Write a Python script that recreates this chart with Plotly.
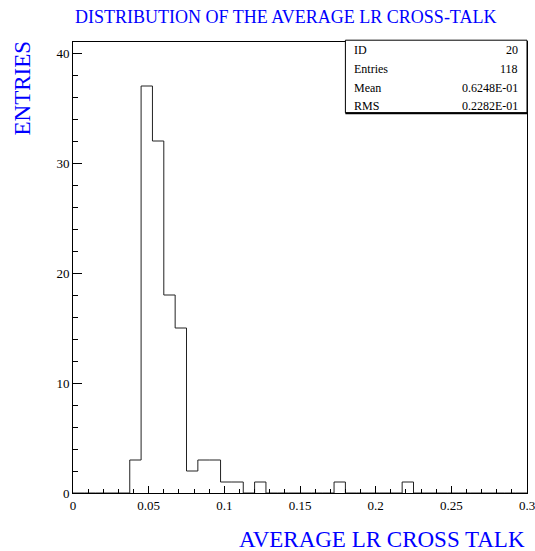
import plotly.graph_objects as go

# histogram: 40 bins from 0 to 0.3
bin_lo = 0.0
bin_width = 0.0075
counts = [0, 0, 0, 0, 0, 3, 37, 32, 18, 15, 2, 3, 3, 1, 1, 0, 1, 0, 0, 0,
          0, 0, 0, 1, 0, 0, 0, 0, 0, 1, 0, 0, 0, 0, 0, 0, 0, 0, 0, 0]

x_ticks = [0, 0.05, 0.1, 0.15, 0.2, 0.25, 0.3]
x_ticklabels = ["0", "0.05", "0.1", "0.15", "0.2", "0.25", "0.3"]

stat_labels = ["ID", "Entries", "Mean", "RMS"]
stat_values = ["20", "118", "0.6248E-01", "0.2282E-01"]

edges = [bin_lo + i * bin_width for i in range(len(counts) + 1)]
ys = counts + [counts[-1]]

serif = "Liberation Serif, Times New Roman, serif"
blue = "#0000ff"

fig = go.Figure()
fig.add_trace(go.Scatter(
    x=edges, y=ys, mode="lines", line_shape="hv",
    line=dict(color="#222222", width=1), showlegend=False, hoverinfo="skip",
))

axis_common = dict(
    showgrid=False, zeroline=False, showline=True, mirror=True,
    linecolor="black", linewidth=1, ticks="inside", tickcolor="black",
    tickfont=dict(family=serif, size=13, color="black"),
    ticklabeloverflow="allow", automargin=False,
)
fig.update_xaxes(range=[0, 0.3], tickvals=x_ticks, ticktext=x_ticklabels, ticklen=7,
                 minor=dict(dtick=0.01, tick0=0, ticks="inside", ticklen=4,
                            tickcolor="black"),
                 **axis_common)
fig.update_yaxes(range=[0, 41], dtick=10, tick0=0, ticklen=9,
                 minor=dict(dtick=2, ticks="inside", ticklen=5, tickcolor="black"),
                 **axis_common)

# stats box
fig.add_shape(type="rect", xref="paper", yref="paper", x0=0.6, x1=1.0,
              y0=0.843, y1=1.004, line=dict(color="black", width=1),
              fillcolor="white", layer="above")
fig.add_shape(type="line", xref="paper", yref="paper", x0=0.6, x1=1.0,
              y0=0.842, y1=0.842, line=dict(color="black", width=2), layer="above")
row_h = 0.0415
for i, (lab, val) in enumerate(zip(stat_labels, stat_values)):
    yy = 0.982 - i * row_h
    fig.add_annotation(x=0.615, y=yy, xref="paper", yref="paper", text=lab,
                       showarrow=False, xanchor="left", yanchor="middle",
                       font=dict(family=serif, size=12, color="black"))
    fig.add_annotation(x=0.985, y=yy, xref="paper", yref="paper", text=val,
                       showarrow=False, xanchor="right", yanchor="middle",
                       font=dict(family=serif, size=12, color="black"))

fig.add_annotation(x=0.5, y=1.0 + 25 / 451, xref="paper", yref="paper",
                   text="DISTRIBUTION OF THE AVERAGE LR CROSS-TALK",
                   showarrow=False, xanchor="center", yanchor="middle",
                   xshift=-15, borderpad=0,
                   font=dict(family=serif, size=18, color=blue))
fig.add_annotation(x=0, y=1.0, xref="paper", yref="paper", text="ENTRIES",
                   showarrow=False, textangle=-90, xanchor="center", yanchor="top",
                   xshift=-51, yshift=3,
                   font=dict(family=serif, size=23, color=blue))
fig.add_annotation(x=1.0, y=0, xref="paper", yref="paper",
                   text="AVERAGE LR CROSS TALK",
                   showarrow=False, xanchor="right", yanchor="middle",
                   yshift=-46,
                   font=dict(family=serif, size=23, color=blue))

fig.update_layout(
    width=535, height=551,
    margin=dict(l=73, r=8, t=42, b=58),
    plot_bgcolor="white", paper_bgcolor="white",
)

# drop the default 8px body margin so the figure fills the window
fig.write_html("out.html", config={"displayModeBar": False},
               post_script="document.body.style.margin='0';")
